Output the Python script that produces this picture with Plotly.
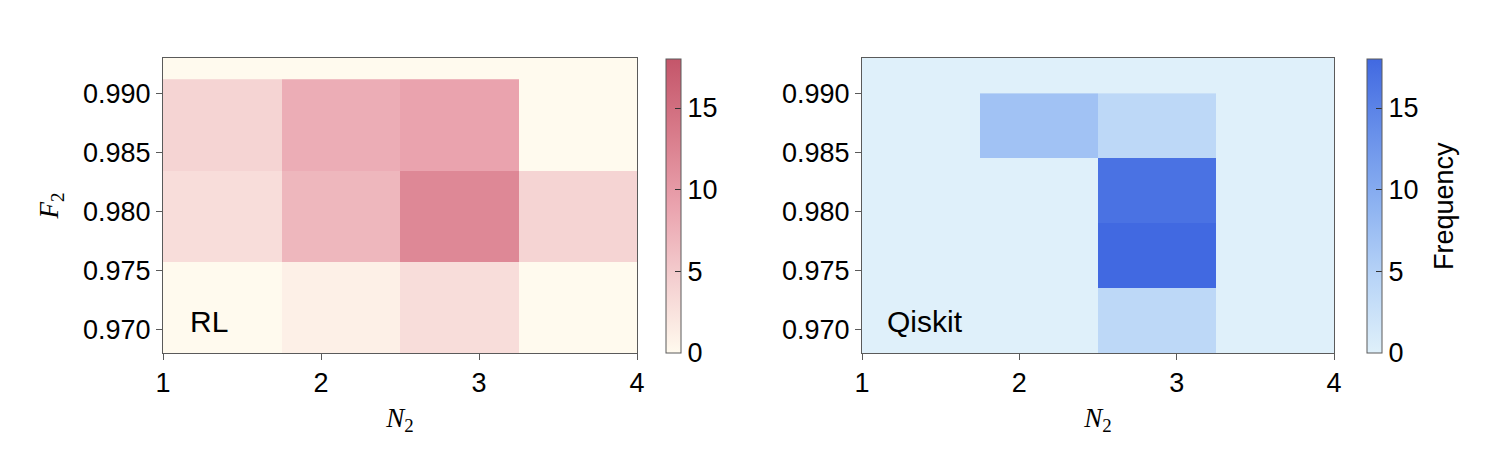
import plotly.graph_objects as go

# bin edges
n2_edges = [1, 1.75, 2.5, 3.25, 4]
f2_edges_rl = [0.968, 0.97574, 0.98347, 0.9912]
f2_edges_qiskit = [0.968, 0.9735, 0.979, 0.9845, 0.990]

# counts, rows go from low F2 to high F2
counts_rl = [
    [0, 1, 3, 0],
    [3, 7, 12, 4],
    [4, 8, 9, 0],
]
counts_qiskit = [
    [0, 0, 4, 0],
    [0, 0, 18, 0],
    [0, 0, 17, 0],
    [0, 7, 4, 0],
]

y_ticks = [0.970, 0.975, 0.980, 0.985, 0.990]
cbar_ticks = [0, 5, 10, 15]

red_scale = [[0, "#FFFAEE"], [0.25, "#F4CFD0"], [0.5, "#EAA3AE"],
             [0.75, "#D87B8A"], [1, "#C4566A"]]
blue_scale = [[0, "#DFF0FA"], [0.25, "#B9D5F7"], [0.5, "#8EB3F1"],
              [0.75, "#6890EA"], [1, "#4169E1"]]

W, H = 1495, 466
OFF = 8  # page body margin
FONT = "Liberation Sans"
SERIF = "Liberation Serif"
AX = "#5a5a5a"
TICK_SIZE = 27


def px_x(v):
    return (v - OFF) / W


def px_y(v):
    return 1 - (v - OFF) / H


fig = go.Figure()

common_cbar = dict(
    thickness=15, thicknessmode="pixels",
    len=294, lenmode="pixels",
    y=px_y(206), yanchor="middle",
    xanchor="left", xpad=0, ypad=0,
    outlinewidth=1, outlinecolor=AX,
    tickvals=cbar_ticks, ticks="inside", ticklen=6, tickcolor="#333",
    tickfont=dict(size=TICK_SIZE, family=FONT, color="black"),
)

fig.add_trace(go.Heatmap(
    x=n2_edges, y=f2_edges_rl, z=counts_rl,
    zmin=0, zmax=18, colorscale=red_scale,
    xaxis="x", yaxis="y",
    colorbar=dict(x=px_x(666), **common_cbar),
))

fig.add_trace(go.Heatmap(
    x=n2_edges, y=f2_edges_qiskit, z=counts_qiskit,
    zmin=0, zmax=18, colorscale=blue_scale,
    xaxis="x2", yaxis="y2",
    colorbar=dict(x=px_x(1367), **common_cbar),
))

axis_style = dict(
    showline=True, mirror=True, linecolor=AX, linewidth=1,
    ticks="outside", ticklen=6, tickcolor=AX,
    showgrid=False, zeroline=False, automargin=False,
    tickfont=dict(size=TICK_SIZE, family=FONT, color="black"),
)
xtitle = dict(text="<i>N</i><sub>2</sub>",
              font=dict(size=27, family=SERIF, color="black"),
              standoff=10)

fig.update_layout(
    width=W, height=H,
    margin=dict(l=0, r=0, t=0, b=0, autoexpand=False),
    paper_bgcolor="white", plot_bgcolor="white",
    showlegend=False,
    xaxis=dict(domain=[px_x(163), px_x(637)], range=[1, 4],
               tickvals=[1, 2, 3, 4], anchor="y", title=xtitle, **axis_style),
    yaxis=dict(domain=[px_y(353), px_y(58)], range=[0.968, 0.993],
               tickvals=y_ticks, tickformat=".3f", anchor="x",
               title=dict(text="<i>F</i><sub>2</sub>",
                          font=dict(size=27, family=SERIF, color="black"),
                          standoff=16),
               **axis_style),
    xaxis2=dict(domain=[px_x(862), px_x(1334)], range=[1, 4],
                tickvals=[1, 2, 3, 4], anchor="y2", title=xtitle, **axis_style),
    yaxis2=dict(domain=[px_y(353), px_y(58)], range=[0.968, 0.993],
                tickvals=y_ticks, tickformat=".3f", anchor="x2", **axis_style),
    shapes=[
        dict(type="rect", xref="x domain", yref="y domain", x0=0, x1=1, y0=0, y1=1,
             fillcolor="#FFFAEE", line_width=0, layer="below"),
        dict(type="rect", xref="x2 domain", yref="y2 domain", x0=0, x1=1, y0=0, y1=1,
             fillcolor="#DFF0FA", line_width=0, layer="below"),
    ],
    annotations=[
        dict(text="RL", xref="x domain", yref="y domain", x=0.053, y=0.108,
             xanchor="left", yanchor="middle", showarrow=False,
             font=dict(size=30, family=FONT, color="black")),
        dict(text="Qiskit", xref="x2 domain", yref="y2 domain", x=0.049, y=0.108,
             xanchor="left", yanchor="middle", showarrow=False,
             font=dict(size=30, family=FONT, color="black")),
        # colorbar label
        dict(text="Frequency", xref="paper", yref="paper",
             x=px_x(1444), y=px_y(206), xanchor="center", yanchor="middle",
             textangle=-90, showarrow=False,
             font=dict(size=TICK_SIZE, family=FONT, color="black")),
    ],
)

fig.write_html("out.html")
